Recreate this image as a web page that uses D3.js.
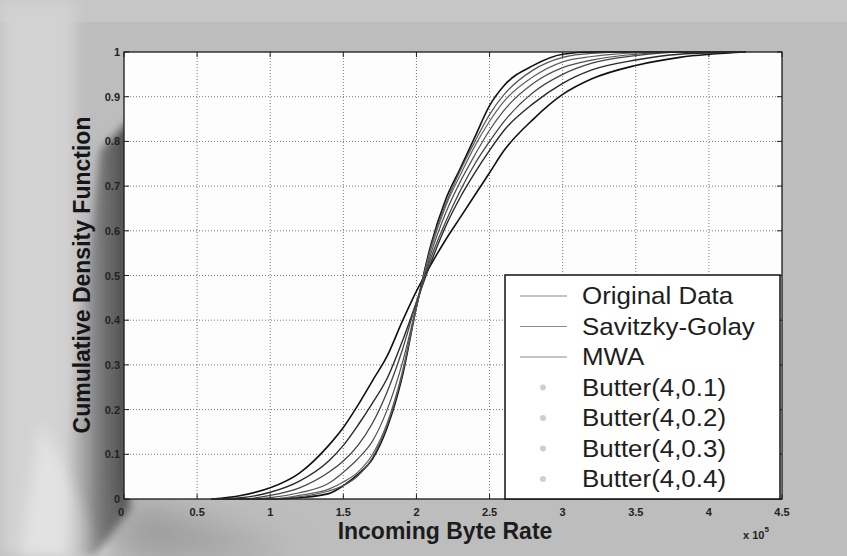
<!DOCTYPE html>
<html>
<head>
<meta charset="utf-8">
<script src="https://cdn.jsdelivr.net/npm/d3@7"></script>
<style>
  html, body { margin: 0; padding: 0; background: #bcbcbc; }
  svg { display: block; }
  text { font-family: 'Liberation Sans', Arial, sans-serif; }
</style>
</head>
<body>
<script>
/* global d3 */

// Sample points along the x axis (units of 1e5 bytes)
const xGrid = [0.6, 0.8, 1.0, 1.2, 1.4, 1.5, 1.6, 1.7, 1.8, 1.9, 2.0, 2.1,
  2.2, 2.3, 2.4, 2.5, 2.6, 2.8, 3.0, 3.2, 3.5, 3.8, 4.25];

// CDF values, one array per curve
const originalData = [0, 0.008, 0.025, 0.058, 0.12, 0.16, 0.21, 0.265, 0.32, 0.395, 0.465, 0.525,
  0.58, 0.63, 0.68, 0.73, 0.78, 0.85, 0.905, 0.94, 0.97, 0.988, 1.0];
const savitzkyGolay = [0, 0.003, 0.015, 0.04, 0.085, 0.12, 0.165, 0.215, 0.27, 0.35, 0.44, 0.53,
  0.61, 0.675, 0.73, 0.78, 0.825, 0.885, 0.93, 0.96, 0.982, 0.995, 1.0];
const mwa = [0, 0, 0, 0.003, 0.012, 0.03, 0.055, 0.09, 0.16, 0.27, 0.43, 0.57,
  0.67, 0.74, 0.81, 0.88, 0.925, 0.97, 0.995, 1.0, 1.0, 1.0, 1.0];
const butter01 = [0, 0, 0, 0.005, 0.018, 0.03, 0.052, 0.093, 0.165, 0.275, 0.43, 0.565,
  0.66, 0.735, 0.8, 0.86, 0.905, 0.96, 0.988, 0.997, 1.0, 1.0, 1.0];
const butter02 = [0, 0, 0, 0.008, 0.022, 0.038, 0.06, 0.1, 0.17, 0.28, 0.43, 0.56,
  0.655, 0.725, 0.79, 0.845, 0.89, 0.945, 0.978, 0.99, 0.998, 1.0, 1.0];
const butter03 = [0, 0, 0.003, 0.014, 0.035, 0.06, 0.09, 0.13, 0.2, 0.3, 0.43, 0.55,
  0.64, 0.71, 0.77, 0.825, 0.87, 0.93, 0.965, 0.982, 0.995, 1.0, 1.0];
const butter04 = [0, 0, 0.008, 0.025, 0.06, 0.085, 0.12, 0.17, 0.24, 0.33, 0.44, 0.54,
  0.62, 0.69, 0.75, 0.80, 0.845, 0.91, 0.95, 0.975, 0.992, 1.0, 1.0];

const seriesNames = ['Original Data', 'Savitzky-Golay', 'MWA',
  'Butter(4,0.1)', 'Butter(4,0.2)', 'Butter(4,0.3)', 'Butter(4,0.4)'];
const seriesValues = [originalData, savitzkyGolay, mwa, butter01, butter02, butter03, butter04];

const xTicks = [0, 0.5, 1, 1.5, 2, 2.5, 3, 3.5, 4, 4.5];
const xTickLabels = ['0', '0.5', '1', '1.5', '2', '2.5', '3', '3.5', '4', '4.5'];
const yTicks = [0, 0.1, 0.2, 0.3, 0.4, 0.5, 0.6, 0.7, 0.8, 0.9, 1];
const yTickLabels = ['0', '0.1', '0.2', '0.3', '0.4', '0.5', '0.6', '0.7', '0.8', '0.9', '1'];

const width = 847;
const height = 556;
const plot = { left: 124, right: 782, top: 52, bottom: 499 };

const x = d3.scaleLinear().domain([0, 4.5]).range([plot.left, plot.right]);
const y = d3.scaleLinear().domain([0, 1]).range([plot.bottom, plot.top]);

const svg = d3.select('body').append('svg')
  .attr('width', width)
  .attr('height', height);

// --- scanned-paper background ---
const defs = svg.append('defs');
defs.append('filter').attr('id', 'blur20')
  .attr('x', '-50%').attr('y', '-50%').attr('width', '200%').attr('height', '200%')
  .append('feGaussianBlur').attr('stdDeviation', 18);
defs.append('filter').attr('id', 'blur8')
  .attr('x', '-50%').attr('y', '-50%').attr('width', '200%').attr('height', '200%')
  .append('feGaussianBlur').attr('stdDeviation', 7);
defs.append('filter').attr('id', 'blur4')
  .attr('x', '-50%').attr('y', '-50%').attr('width', '200%').attr('height', '200%')
  .append('feGaussianBlur').attr('stdDeviation', 4);

// horizontal fade into the shadow next to the y axis
const smear = defs.append('linearGradient').attr('id', 'smear')
  .attr('x1', 0).attr('x2', 1).attr('y1', 0).attr('y2', 0);
smear.append('stop').attr('offset', '0%').attr('stop-color', '#bdbdbd').attr('stop-opacity', 0);
smear.append('stop').attr('offset', '55%').attr('stop-color', '#6a6a6a').attr('stop-opacity', 0.8);
smear.append('stop').attr('offset', '100%').attr('stop-color', '#3e3e3e').attr('stop-opacity', 0.95);

svg.append('rect').attr('width', width).attr('height', height).attr('fill', '#bdbdbd');
svg.append('rect').attr('width', width).attr('height', 22).attr('fill', '#c6c6c6');
svg.append('rect').attr('x', 0).attr('y', 0).attr('width', 75).attr('height', height)
  .attr('fill', '#d2d2d2').attr('filter', 'url(#blur8)');
svg.append('path')
  .attr('d', 'M40,420 L110,556 L20,556 Z')
  .attr('fill', '#e2e2e2').attr('filter', 'url(#blur8)');
// dark smear along the y axis
svg.append('path')
  .attr('d', 'M100,150 L130,120 L130,510 L95,556 L60,556 L70,430 L88,260 Z')
  .attr('fill', 'url(#smear)')
  .attr('filter', 'url(#blur4)');
svg.append('path')
  .attr('d', 'M126,500 L300,556 L120,556 Z')
  .attr('fill', '#8a8a8a').attr('opacity', 0.7).attr('filter', 'url(#blur20)');

// --- plot area ---
svg.append('rect')
  .attr('x', plot.left).attr('y', plot.top)
  .attr('width', plot.right - plot.left).attr('height', plot.bottom - plot.top)
  .attr('fill', '#fdfdfd');

const grid = svg.append('g')
  .attr('stroke', '#7a7a7a')
  .attr('stroke-width', 1)
  .attr('stroke-dasharray', '1,2');
grid.selectAll('line.gx').data(xTicks.slice(1, -1))
  .enter().append('line')
    .attr('class', 'gx')
    .attr('x1', d => x(d)).attr('x2', d => x(d))
    .attr('y1', plot.top).attr('y2', plot.bottom);
grid.selectAll('line.gy').data(yTicks.slice(1, -1))
  .enter().append('line')
    .attr('class', 'gy')
    .attr('x1', plot.left).attr('x2', plot.right)
    .attr('y1', d => y(d)).attr('y2', d => y(d));

// inward ticks on all four sides, MATLAB style
const ticks = svg.append('g').attr('stroke', '#222').attr('stroke-width', 1);
xTicks.forEach((t) => {
  ticks.append('line').attr('x1', x(t)).attr('x2', x(t)).attr('y1', plot.bottom).attr('y2', plot.bottom - 5);
  ticks.append('line').attr('x1', x(t)).attr('x2', x(t)).attr('y1', plot.top).attr('y2', plot.top + 5);
});
yTicks.forEach((t) => {
  ticks.append('line').attr('x1', plot.left).attr('x2', plot.left + 5).attr('y1', y(t)).attr('y2', y(t));
  ticks.append('line').attr('x1', plot.right).attr('x2', plot.right - 5).attr('y1', y(t)).attr('y2', y(t));
});

// --- curves ---
const line = d3.line()
  .x(d => x(d[0]))
  .y(d => y(d[1]))
  .curve(d3.curveMonotoneX);

const curveStyle = [
  { color: '#111', w: 1.6 },
  { color: '#2a2a2a', w: 1.4 },
  { color: '#111', w: 1.6 },
  { color: '#555', w: 1.2 },
  { color: '#606060', w: 1.2 },
  { color: '#505050', w: 1.2 },
  { color: '#444', w: 1.3 },
];

svg.append('g').attr('fill', 'none')
  .selectAll('path').data(seriesValues)
  .enter().append('path')
    .attr('d', vals => line(vals.map((v, i) => [xGrid[i], v])))
    .attr('stroke', (d, i) => curveStyle[i].color)
    .attr('stroke-width', (d, i) => curveStyle[i].w)
    .attr('stroke-linejoin', 'round');

// axis box (left, bottom, top, right)
svg.append('rect')
  .attr('x', plot.left).attr('y', plot.top)
  .attr('width', plot.right - plot.left).attr('height', plot.bottom - plot.top)
  .attr('fill', 'none').attr('stroke', '#1a1a1a').attr('stroke-width', 1.3);

// --- tick labels ---
svg.append('g')
  .selectAll('text').data(xTicks)
  .enter().append('text')
    .attr('x', d => x(d) - (d === 0 ? 3 : 0))
    .attr('y', 516)
    .attr('text-anchor', 'middle')
    .attr('font-size', 11).attr('font-weight', 'bold').attr('fill', '#222')
    .text((d, i) => xTickLabels[i]);

svg.append('g')
  .selectAll('text').data(yTicks)
  .enter().append('text')
    .attr('x', 120)
    .attr('y', d => y(d) + 4)
    .attr('text-anchor', 'end')
    .attr('font-size', 11).attr('font-weight', 'bold').attr('fill', '#222')
    .text((d, i) => yTickLabels[i]);

// exponent note
const expo = svg.append('text')
  .attr('x', 743).attr('y', 539)
  .attr('font-size', 11).attr('font-weight', 'bold').attr('fill', '#222');
expo.append('tspan').text('x 10');
expo.append('tspan').attr('dy', -7).attr('font-size', 8).text('5');

// --- axis titles ---
svg.append('text')
  .attr('x', 445).attr('y', 539)
  .attr('text-anchor', 'middle')
  .attr('font-size', 23).attr('font-weight', 'bold').attr('fill', '#1c1c1c')
  .text('Incoming Byte Rate');

svg.append('text')
  .attr('transform', 'translate(90,275) rotate(-90)')
  .attr('text-anchor', 'middle')
  .attr('font-size', 23).attr('font-weight', 'bold').attr('fill', '#151515')
  .text('Cumulative Density Function');

// --- legend ---
const legend = svg.append('g');
legend.append('rect')
  .attr('x', 505).attr('y', 275)
  .attr('width', 275).attr('height', plot.bottom - 275)
  .attr('fill', '#fff').attr('stroke', '#111').attr('stroke-width', 1.5);

const rowY = i => 296 + i * 30.5;

const rows = legend.selectAll('g.row').data(seriesNames)
  .enter().append('g')
    .attr('class', 'row')
    .attr('transform', (d, i) => `translate(0,${rowY(i)})`);

rows.filter((d, i) => i < 3).append('line')
  .attr('x1', 520).attr('x2', 567)
  .attr('stroke', '#8a8a8a').attr('stroke-width', 1.2);

rows.filter((d, i) => i >= 3).append('circle')
  .attr('cx', 543).attr('cy', 0).attr('r', 3)
  .attr('fill', '#cfcfcf');

rows.append('text')
  .attr('transform', 'translate(582,8) scale(1.08,1)')
  .attr('font-size', 24).attr('fill', '#1e1e1e')
  .text(d => d);
</script>
</body>
</html>
